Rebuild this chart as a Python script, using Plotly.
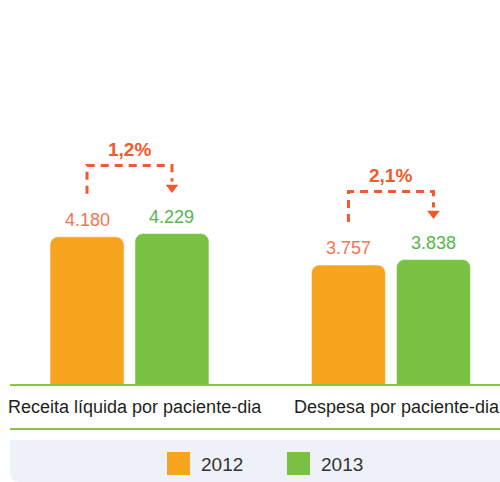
import plotly.graph_objects as go

# ---------------- data ----------------
categories = ["Receita líquida por paciente-dia", "Despesa por paciente-dia"]
years = ["2012", "2013"]
values_2012 = [4180, 3757]
values_2013 = [4229, 3838]
labels_2012 = ["4.180", "3.757"]
labels_2013 = ["4.229", "3.838"]
changes = ["1,2%", "2,1%"]

# ---------------- layout constants ----------------
W, H = 500, 482
ML, MR, MT, MB = 10, 0, 20, 98
Y_MIN, Y_MAX = 1970, 7435
X_MIN, X_MAX = -0.457, 1.417
OFF = 0.1625     # bar centre offset from category centre
BW = 0.283       # bar width in category units

plot_w = W - ML - MR
plot_h = H - MT - MB
ppu = plot_h / (Y_MAX - Y_MIN)   # pixels per data unit


def up(v, px):
    """data value shifted up by px pixels"""
    return v + px / ppu


def pxp(px):
    return (px - ML) / plot_w


def pyp(py):
    return (H - MB - py) / plot_h


ORANGE = "#f7a51f"
GREEN = "#79c143"
ORANGE_TXT = "#f27552"
GREEN_TXT = "#52b848"
ARROW = "#f15a2b"
AXIS_GREEN = "#8cc63f"
TEXT = "#231f20"
FONT = "Liberation Sans, Arial, sans-serif"

xs = list(range(len(categories)))
x_2012 = [x - OFF for x in xs]
x_2013 = [x + OFF for x in xs]

fig = go.Figure()
fig.add_trace(go.Bar(x=x_2012, y=values_2012, width=BW, name=years[0],
                     marker=dict(color=ORANGE, line=dict(color="rgba(255,255,255,0.5)", width=1)),
                     showlegend=False, hoverinfo="skip"))
fig.add_trace(go.Bar(x=x_2013, y=values_2013, width=BW, name=years[1],
                     marker=dict(color=GREEN, line=dict(color="rgba(255,255,255,0.5)", width=1)),
                     showlegend=False, hoverinfo="skip"))

annotations = []
# value labels
for x, v, t in zip(x_2012, values_2012, labels_2012):
    annotations.append(dict(x=x, y=v, text=t, showarrow=False, yanchor="bottom",
                            yshift=5, font=dict(family=FONT, size=18, color=ORANGE_TXT)))
for x, v, t in zip(x_2013, values_2013, labels_2013):
    annotations.append(dict(x=x, y=v, text=t, showarrow=False, yanchor="bottom",
                            yshift=5, font=dict(family=FONT, size=18, color=GREEN_TXT)))

# change brackets
for i in xs:
    a, b = values_2012[i], values_2013[i]
    xl, xr = x_2012[i], x_2013[i]
    y_bottom = up(a, 43)
    y_top = up(b, 68)
    y_end = up(b, 52)
    fig.add_trace(go.Scatter(x=[xl, xl, xr, xr], y=[y_bottom, y_top, y_top, y_end],
                             mode="lines", line=dict(color=ARROW, width=3, dash="8px,6px"),
                             showlegend=False, hoverinfo="skip"))
    fig.add_trace(go.Scatter(x=[xr], y=[up(b, 46)], mode="markers",
                             marker=dict(symbol="triangle-down", size=11, color=ARROW),
                             showlegend=False, hoverinfo="skip"))
    annotations.append(dict(x=i, y=y_top, text="<b>" + changes[i] + "</b>", showarrow=False,
                            yanchor="middle", yshift=16,
                            font=dict(family=FONT, size=19, color=ARROW)))

# category labels
for i, c in zip(xs, categories):
    annotations.append(dict(x=i, xref="x", yref="paper", y=pyp(407), text=c,
                            showarrow=False, xshift=6, yanchor="middle",
                            font=dict(family=FONT, size=18, color=TEXT)))

shapes = []
# second green separator line
shapes.append(dict(type="line", xref="paper", yref="paper", x0=0, x1=1,
                   y0=pyp(429), y1=pyp(429), line=dict(color=AXIS_GREEN, width=2)))
# legend box with rounded bottom-left corner
x0, x1 = pxp(10), pxp(500)
yt, yb = pyp(440), pyp(482)
rx, ry = 10 / plot_w, 10 / plot_h
shapes.append(dict(type="path", xref="paper", yref="paper", layer="below",
                   path=f"M{x0},{yt} L{x1},{yt} L{x1},{yb} L{x0 + rx},{yb} Q{x0},{yb} {x0},{yb + ry} Z",
                   fillcolor="#eef1f8", line=dict(width=0)))
# legend swatches and texts
legend_items = [(years[0], ORANGE, 167), (years[1], GREEN, 287)]
for name, col, px in legend_items:
    shapes.append(dict(type="rect", xref="paper", yref="paper",
                       x0=pxp(px), x1=pxp(px + 23), y0=pyp(475), y1=pyp(452),
                       fillcolor=col, line=dict(width=0)))
    annotations.append(dict(xref="paper", yref="paper", x=pxp(px + 32), y=pyp(464),
                            text=name, showarrow=False, xanchor="left", yanchor="middle",
                            font=dict(family=FONT, size=19, color="#333333")))

fig.update_layout(
    width=W, height=H,
    margin=dict(l=ML, r=MR, t=MT, b=MB),
    paper_bgcolor="white", plot_bgcolor="white",
    barcornerradius=8,
    shapes=shapes, annotations=annotations,
    xaxis=dict(range=[X_MIN, X_MAX], tickvals=xs, showticklabels=False,
               showgrid=False, zeroline=False, showline=True, linecolor=AXIS_GREEN,
               linewidth=2, ticks="", fixedrange=True),
    yaxis=dict(range=[Y_MIN, Y_MAX], visible=False, fixedrange=True),
    showlegend=False,
)

fig.write_html("out.html", config={"displayModeBar": False},
               post_script="document.body.style.margin='0';document.body.style.padding='0';")
